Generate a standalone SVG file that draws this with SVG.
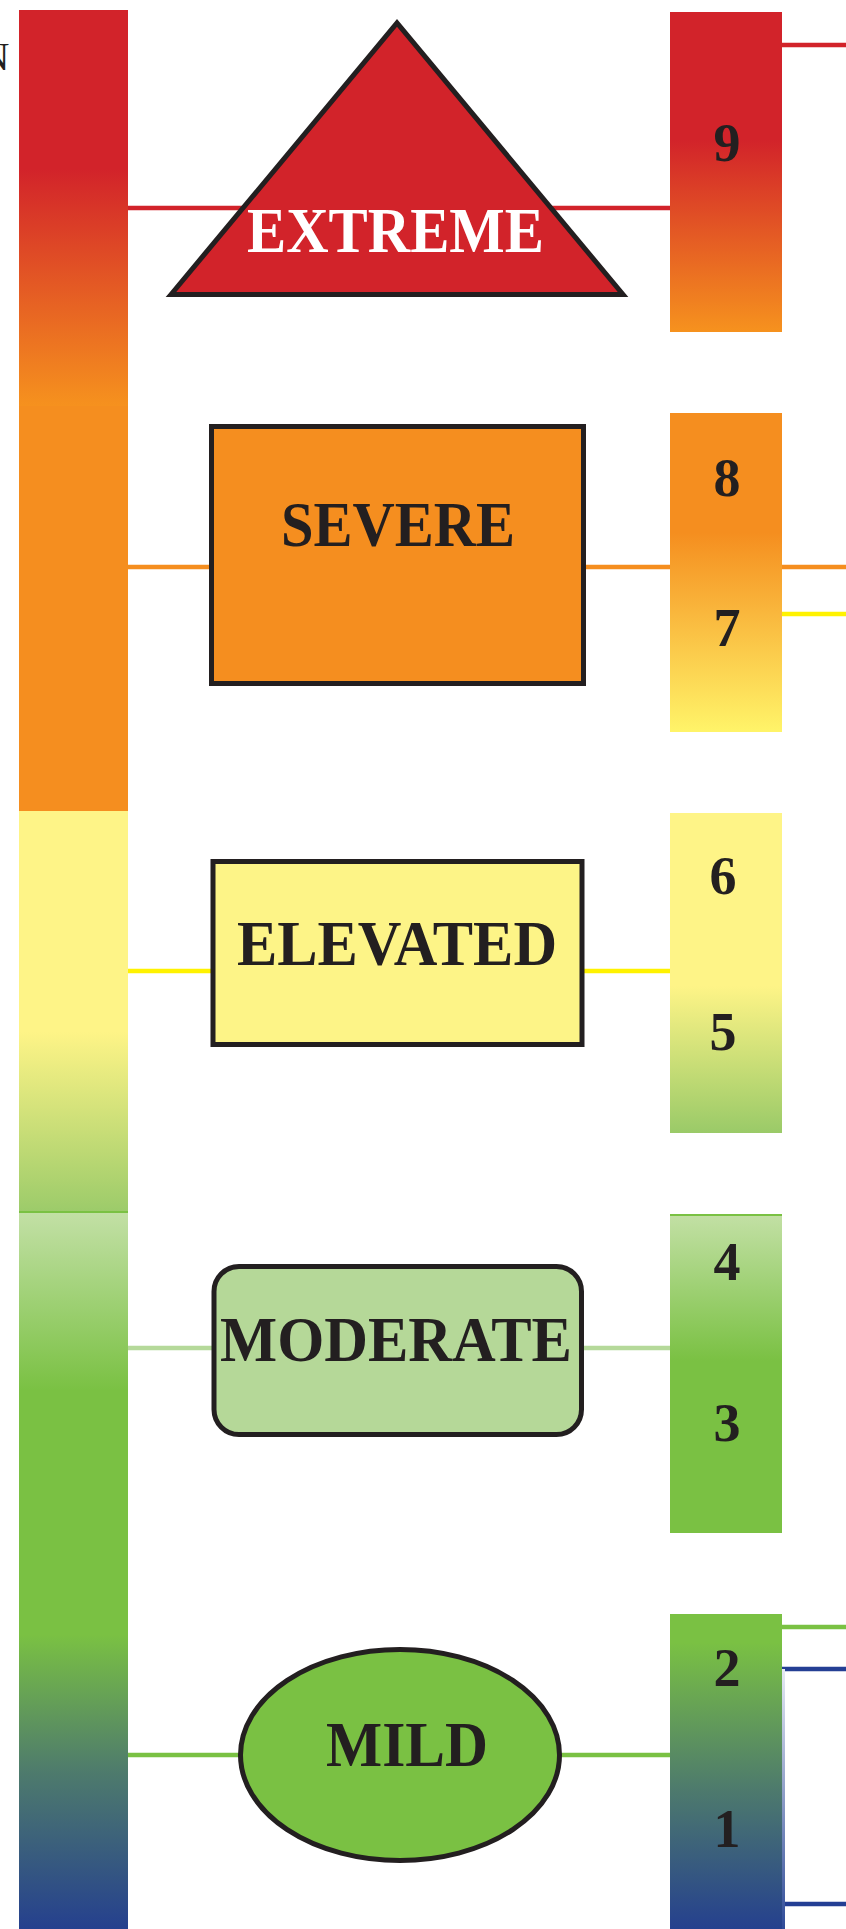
<svg xmlns="http://www.w3.org/2000/svg" width="846" height="1929" viewBox="0 0 846 1929">
<defs>
<style>
.lbl{font-family:"Liberation Serif","Times New Roman",serif;font-size:63px;font-weight:bold;text-anchor:middle;fill:#231F20}
.num{font-family:"Liberation Serif","Times New Roman",serif;font-size:54px;font-weight:bold;text-anchor:middle;fill:#231F20}
.node{stroke:#231F20;stroke-width:5}
.conn{stroke-width:4.5;fill:none}
</style>
<linearGradient id="gL1" x1="0" y1="0" x2="0" y2="1"><stop offset="0" stop-color="#D2232A"/><stop offset="0.4" stop-color="#D2232A"/><stop offset="1" stop-color="#F6921E"/></linearGradient>
<linearGradient id="gL3" x1="0" y1="0" x2="0" y2="1"><stop offset="0" stop-color="#FEF487"/><stop offset="0.55" stop-color="#FEF487"/><stop offset="1" stop-color="#9CCB6A"/></linearGradient>
<linearGradient id="gL4" x1="0" y1="0" x2="0" y2="1"><stop offset="0" stop-color="#C3E0A6"/><stop offset="0.25" stop-color="#7AC143"/><stop offset="0.59" stop-color="#7AC143"/><stop offset="0.78" stop-color="#4E7B6C"/><stop offset="1" stop-color="#25408E"/></linearGradient>
<linearGradient id="gR9" x1="0" y1="0" x2="0" y2="1"><stop offset="0" stop-color="#D2232A"/><stop offset="0.4" stop-color="#D2232A"/><stop offset="1" stop-color="#F6921E"/></linearGradient>
<linearGradient id="gR87" x1="0" y1="0" x2="0" y2="1"><stop offset="0" stop-color="#F58E1F"/><stop offset="0.375" stop-color="#F58E1F"/><stop offset="1" stop-color="#FFF469"/></linearGradient>
<linearGradient id="gR65" x1="0" y1="0" x2="0" y2="1"><stop offset="0" stop-color="#FEF487"/><stop offset="0.54" stop-color="#FEF487"/><stop offset="1" stop-color="#9ACA68"/></linearGradient>
<linearGradient id="gR43" x1="0" y1="0" x2="0" y2="1"><stop offset="0" stop-color="#C3E0A5"/><stop offset="0.46" stop-color="#7AC143"/><stop offset="1" stop-color="#7AC143"/></linearGradient>
<linearGradient id="gR21" x1="0" y1="0" x2="0" y2="1"><stop offset="0" stop-color="#7AC143"/><stop offset="0.09" stop-color="#7AC143"/><stop offset="0.55" stop-color="#4E7B6C"/><stop offset="1" stop-color="#25408E"/></linearGradient>
<linearGradient id="gEdge" x1="0" y1="0" x2="0" y2="1"><stop offset="0" stop-color="#E6EAF4"/><stop offset="1" stop-color="#2F4B98"/></linearGradient>
</defs>
<rect x="0" y="0" width="846" height="1929" fill="#FFFFFF"/>

<text x="9.5" y="70" font-family="Liberation Serif, serif" font-size="40" fill="#231F20" text-anchor="end">N</text>

<g id="scale-left">
<rect x="19" y="10" width="109" height="397" fill="url(#gL1)"/>
<rect x="19" y="406" width="109" height="405" fill="#F58E1F"/>
<rect x="19" y="811" width="109" height="401" fill="url(#gL3)"/>
<rect x="19" y="1211" width="109" height="718" fill="url(#gL4)"/>
<rect x="19" y="1211" width="109" height="2" fill="#7AC143"/>
</g>

<g id="connectors">
<line class="conn" x1="128" y1="208" x2="670" y2="208" stroke="#D2232A"/>
<line class="conn" x1="782" y1="45" x2="846" y2="45" stroke="#D2232A"/>
<line class="conn" x1="128" y1="567" x2="670" y2="567" stroke="#F58E1F"/>
<line class="conn" x1="782" y1="567" x2="846" y2="567" stroke="#F58E1F"/>
<line class="conn" x1="782" y1="614" x2="846" y2="614" stroke="#FFF200"/>
<line class="conn" x1="128" y1="971" x2="670" y2="971" stroke="#FFF200"/>
<line class="conn" x1="128" y1="1348" x2="670" y2="1348" stroke="#B5D99A"/>
<line class="conn" x1="128" y1="1755" x2="670" y2="1755" stroke="#7AC143"/>
<line class="conn" x1="782" y1="1627" x2="846" y2="1627" stroke="#7AC143"/>
<line class="conn" x1="782" y1="1669" x2="846" y2="1669" stroke="#243F94"/>
<line class="conn" x1="782" y1="1904" x2="846" y2="1904" stroke="#243F94"/>
</g>

<g id="node-extreme">
<polygon class="node" points="171,294.5 397,23 623,294.5" fill="#D2232A" stroke-linejoin="miter"/>
<text class="lbl" x="395.5" y="252" style="fill:#FFFFFF" textLength="297" lengthAdjust="spacingAndGlyphs">EXTREME</text>
</g>

<g id="node-severe">
<rect class="node" x="211.5" y="426.5" width="372" height="257" fill="#F58E1F"/>
<text class="lbl" x="398" y="546" textLength="234" lengthAdjust="spacingAndGlyphs">SEVERE</text>
</g>

<g id="node-elevated">
<rect class="node" x="213" y="861.5" width="369" height="183" fill="#FDF487"/>
<text class="lbl" x="397" y="965" textLength="320" lengthAdjust="spacingAndGlyphs">ELEVATED</text>
</g>

<g id="node-moderate">
<rect class="node" x="214" y="1266.5" width="367.5" height="168" rx="25" ry="25" fill="#B5D898"/>
<text class="lbl" x="396" y="1361" textLength="352" lengthAdjust="spacingAndGlyphs">MODERATE</text>
</g>

<g id="node-mild">
<ellipse class="node" cx="400" cy="1755" rx="159.5" ry="105.5" fill="#7AC143"/>
<text class="lbl" x="407" y="1766" textLength="162" lengthAdjust="spacingAndGlyphs">MILD</text>
</g>

<g id="scale-9">
<rect x="670" y="12" width="112" height="320" fill="url(#gR9)"/>
<text class="num" x="727" y="161">9</text>
</g>
<g id="scale-8-7">
<rect x="670" y="413" width="112" height="319" fill="url(#gR87)"/>
<text class="num" x="727" y="496">8</text>
<text class="num" x="727" y="646">7</text>
</g>
<g id="scale-6-5">
<rect x="670" y="813" width="112" height="320" fill="url(#gR65)"/>
<text class="num" x="723" y="894">6</text>
<text class="num" x="723" y="1050">5</text>
</g>
<g id="scale-4-3">
<rect x="670" y="1214" width="112" height="319" fill="url(#gR43)"/>
<rect x="670" y="1214" width="112" height="2" fill="#7AC143"/>
<text class="num" x="727" y="1280">4</text>
<text class="num" x="727" y="1441">3</text>
</g>
<g id="scale-2-1">
<rect x="670" y="1614" width="112" height="315" fill="url(#gR21)"/>
<rect x="782" y="1669" width="3" height="260" fill="url(#gEdge)"/>
<text class="num" x="727" y="1686">2</text>
<text class="num" x="727" y="1847">1</text>
</g>
</svg>
